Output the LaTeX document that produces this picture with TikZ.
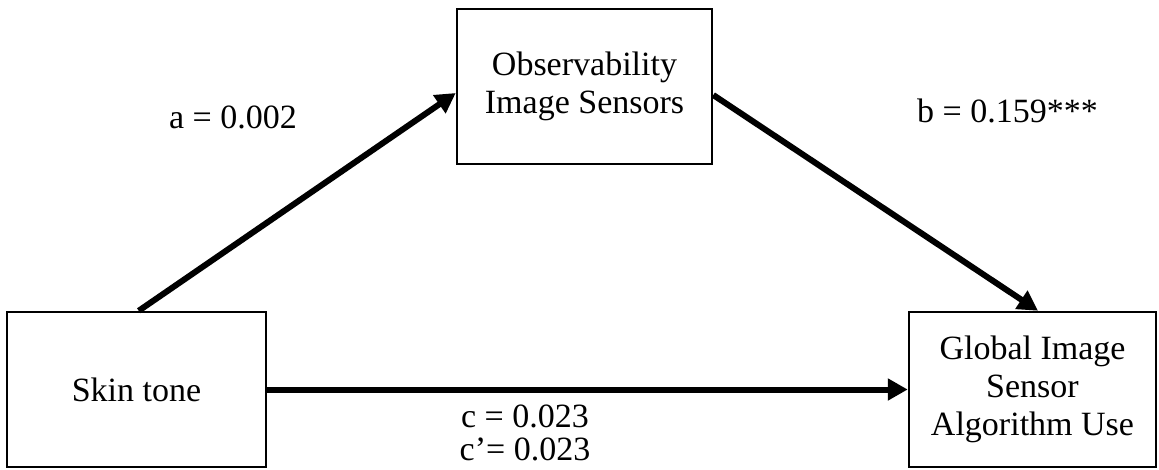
\documentclass[tikz,border=0pt]{standalone}
\usepackage{fontspec}
\setmainfont{Liberation Serif}
\usetikzlibrary{arrows.meta,calc}

\tikzset{
  varbox/.style={draw=black, line width=2.5pt, rectangle, inner sep=0pt,
                 align=center, font=\fontsize{34}{38}\selectfont},
  path/.style={line width=6pt, -{Triangle[length=20pt,width=21pt]}},
  coef/.style={font=\fontsize{34}{34}\selectfont, inner sep=0pt, align=center}
}

\begin{document}
\begin{tikzpicture}[x=1pt,y=-1pt]
  \useasboundingbox (0,0) rectangle (1159,469);

  % variables
  \node[varbox, minimum width=255pt, minimum height=155pt] (obs)  at (584.5,86.5)
    {Observability\\Image Sensors};
  \node[varbox, minimum width=259pt, minimum height=155pt] (skin) at (136.5,389.5)
    {Skin tone};
  \node[varbox, minimum width=247pt, minimum height=155pt] (glob) at (1032.5,389.5)
    {Global Image\\Sensor\\Algorithm Use};

  % paths
  \draw[path] ($(skin.north west)+(133pt,0)$) -- ($(obs.west)+(0,-6.5pt)$);
  \draw[path] ($(obs.east)+(0,-8.5pt)$) -- ($(glob.north)+(5.5pt,0)$);
  \draw[path] (skin.east) -- (glob.west);

  % coefficients
  \node[coef] (la) at (233,117) {a = 0.002};
  \node[coef, anchor=west] (lb) at (917,111) {b = 0.159***};
  \node[coef, anchor=base] (lc1) at (525,427) {c = 0.023};
  \node[coef, anchor=base] (lc2) at (525,460) {c’= 0.023};
\end{tikzpicture}
\end{document}
